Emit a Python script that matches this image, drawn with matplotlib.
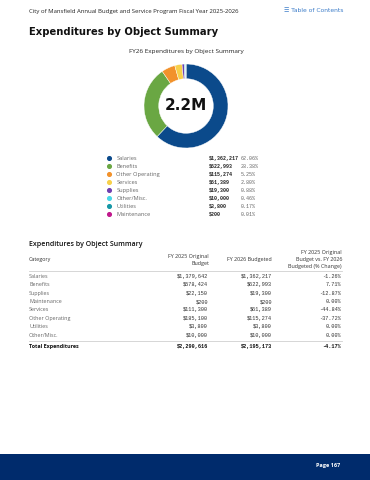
import matplotlib.pyplot as plt
import numpy as np

# ---- data
categories = ['Salaries', 'Benefits', 'Other Operating', 'Services',
              'Supplies', 'Other/Misc.', 'Utilities', 'Maintenance']
fy26 = [1362217, 622993, 115274, 61389, 19300, 10000, 3800, 200]
colors = ['#0b4a8b', '#6aa743', '#f2922b', '#f7d04a',
          '#6f3fb0', '#49d7e8', '#1697a6', '#c0188c']

tbl_cats = ['Salaries', 'Benefits', 'Supplies', 'Maintenance', 'Services',
            'Other Operating', 'Utilities', 'Other/Misc.']
tbl_fy25 = [1379642, 578424, 22150, 200, 111300, 185100, 3800, 10000]
tbl_fy26 = [1362217, 622993, 19300, 200, 61389, 115274, 3800, 10000]

total = sum(fy26)
shares = [v / total * 100 for v in fy26]

W, H = 370, 480
fig = plt.figure(figsize=(W/100, H/100), dpi=100)
ax = fig.add_axes([0, 0, 1, 1])
ax.set_xlim(0, W)
ax.set_ylim(H, 0)
ax.axis('off')

body = 'Open Sans'
mono = 'Liberation Mono'
txt = '#333333'
light = '#666666'

# ---- page header
ax.text(29, 11, 'City of Mansfield Annual Budget and Service Program Fiscal Year 2025-2026',
        fontsize=4.3, family=body, color='#222222', va='center')
ax.text(284, 11, '\u2630 Table of Contents', fontsize=4.3, family=['DejaVu Sans'],
        color='#3a7bc8', va='center')
ax.text(29, 32, 'Expenditures by Object Summary', fontsize=7.2, family='DejaVu Sans',
        weight='bold', color='#111111', va='center')

# ---- donut
ax.text(186, 52, 'FY26 Expenditures by Object Summary', fontsize=4.6, family=body,
        color='#222222', ha='center', va='center')
cx, cy, r = 186, 106, 42
ax2 = fig.add_axes([(cx - r)/W, (H - cy - r)/H, 2*r/W, 2*r/H])
ax2.pie(fy26, colors=colors, startangle=90, counterclock=False, radius=1,
        wedgeprops=dict(width=0.35, edgecolor='white', linewidth=0.3))
ax2.set_xlim(-1, 1)
ax2.set_ylim(-1, 1)
ax2.set_aspect('equal')
ax2.text(0, 0, f'{total/1e6:.1f}M', fontsize=11, weight='bold', family='DejaVu Sans',
         ha='center', va='center', color='#111111')

# ---- legend
ly0, lstep = 158.3, 8.0
for i, (c, v, s, col) in enumerate(zip(categories, fy26, shares, colors)):
    y = ly0 + i * lstep
    ax.scatter([109.3], [y], s=7, color=col, zorder=3)
    ax.text(116.5, y, c, fontsize=4.1, family=body, color=light, va='center')
    ax.text(209, y, f'${v:,}', fontsize=3.6, family=mono, weight='bold',
            color='#222222', va='center')
    ax.text(241, y, f'{s:.2f}%', fontsize=3.6, family=mono, color=light, va='center')

# ---- table
ax.text(29, 244, 'Expenditures by Object Summary', fontsize=5.0, family=body,
        weight='semibold', color='#111111', va='center')
ax.text(29, 260, 'Category', fontsize=3.9, family=body, color=txt, va='center')
ax.text(209, 260, 'FY 2025 Original\nBudget', fontsize=3.9, family=body, color=txt,
        ha='right', va='center', multialignment='right', linespacing=1.5)
ax.text(272, 260, 'FY 2026 Budgeted', fontsize=3.9, family=body, color=txt,
        ha='right', va='center')
ax.text(342, 259.5, 'FY 2025 Original\nBudget vs. FY 2026\nBudgeted (% Change)',
        fontsize=3.9, family=body, color=txt, ha='right', va='center',
        multialignment='right', linespacing=1.5)
ax.plot([29, 342], [270.7, 270.7], color='#d0d0d0', lw=0.6)

ry0, rstep = 276.3, 8.4
for i, (c, a, b) in enumerate(zip(tbl_cats, tbl_fy25, tbl_fy26)):
    y = ry0 + i * rstep
    pct = (b - a) / a * 100
    ax.text(29, y, c, fontsize=3.9, family=body, color=light, va='center')
    ax.text(208, y, f'${a:,}', fontsize=3.8, family=mono, color=txt, ha='right', va='center')
    ax.text(272, y, f'${b:,}', fontsize=3.8, family=mono, color=txt, ha='right', va='center')
    ax.text(341, y, f'{pct:.2f}%', fontsize=3.8, family=mono, color=txt, ha='right', va='center')

t25, t26 = sum(tbl_fy25), sum(tbl_fy26)
ax.plot([29, 342], [340.7, 340.7], color='#d0d0d0', lw=0.6)
ty = 346.3
ax.text(29, ty, 'Total Expenditures', fontsize=3.9, family=body, weight='bold',
        color='#111111', va='center')
ax.text(208, ty, f'${t25:,}', fontsize=3.8, family=mono, weight='bold', color='#111111',
        ha='right', va='center')
ax.text(272, ty, f'${t26:,}', fontsize=3.8, family=mono, weight='bold', color='#111111',
        ha='right', va='center')
ax.text(341, ty, f'{(t26 - t25)/t25*100:.2f}%', fontsize=3.8, family=mono, weight='bold',
        color='#111111', ha='right', va='center')

# ---- footer
ax.add_patch(plt.Rectangle((0, 454), W, 26, color='#002b6c', lw=0))
ax.text(340, 466, 'Page 167', fontsize=4.0, family=body, weight='bold', color='white',
        ha='right', va='center')

fig.savefig('out.png', dpi=100)
